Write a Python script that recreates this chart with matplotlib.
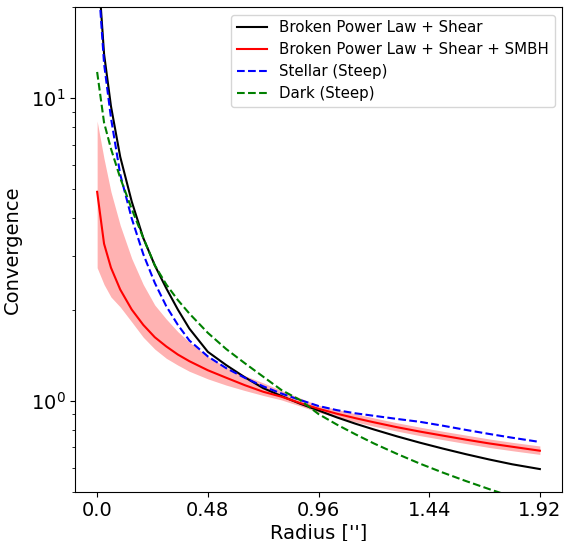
import matplotlib
matplotlib.use("Agg")
import matplotlib.pyplot as plt

radius = [0.00, 0.03, 0.06, 0.10, 0.15, 0.20, 0.25, 0.30, 0.35, 0.40, 0.48,
          0.56, 0.64, 0.72, 0.80, 0.88, 0.96, 1.04, 1.12, 1.20, 1.30, 1.40,
          1.50, 1.60, 1.70, 1.80, 1.92]

bpl_shear = [30.0, 14.0, 9.4, 6.4, 4.55, 3.45, 2.8, 2.35, 2.0, 1.73, 1.45,
             1.31, 1.195, 1.10, 1.035, 0.977, 0.928, 0.880, 0.839, 0.803, 0.762, 0.726,
             0.694, 0.665, 0.639, 0.616, 0.594]

bpl_smbh = [4.9, 3.3, 2.75, 2.33, 2.0, 1.78, 1.62, 1.51, 1.42, 1.35, 1.26,
            1.19, 1.125, 1.07, 1.03, 0.982, 0.94, 0.905, 0.875, 0.848, 0.817, 0.790,
            0.766, 0.743, 0.722, 0.704, 0.683]

bpl_smbh_lo = [2.75, 2.42, 2.2, 2.04, 1.82, 1.62, 1.48, 1.38, 1.31, 1.25, 1.18,
               1.125, 1.08, 1.04, 1.005, 0.96, 0.915, 0.88, 0.85, 0.823, 0.793, 0.766,
               0.743, 0.721, 0.700, 0.683, 0.664]

bpl_smbh_hi = [8.4, 6.3, 4.9, 3.8, 2.95, 2.42, 2.07, 1.86, 1.69, 1.56, 1.40,
               1.29, 1.21, 1.145, 1.08, 1.02, 0.965, 0.935, 0.905, 0.877, 0.845, 0.817,
               0.792, 0.769, 0.747, 0.728, 0.708]

stellar_steep = [28.0, 13.0, 8.6, 5.6, 4.0, 3.05, 2.45, 2.05, 1.78, 1.58, 1.40,
                 1.28, 1.19, 1.115, 1.055, 1.005, 0.96, 0.930, 0.908, 0.891, 0.870, 0.851,
                 0.826, 0.800, 0.776, 0.754, 0.730]

dark_steep = [12.2, 8.3, 6.8, 5.45, 4.3, 3.45, 2.8, 2.42, 2.15, 1.94, 1.675,
              1.48, 1.33, 1.20, 1.083, 1.005, 0.903, 0.833, 0.774, 0.722, 0.667, 0.619,
              0.578, 0.542, 0.510, 0.481, 0.451]

xticks = [0.0, 0.48, 0.96, 1.44, 1.92]
xtick_labels = ["0.0", "0.48", "0.96", "1.44", "1.92"]

fig = plt.figure(figsize=(5.66, 5.41), dpi=100)
ax = fig.add_axes([75 / 566, 1 - 491.7 / 541, (562 - 75) / 566, (491.7 - 7) / 541])

ax.plot(radius, bpl_shear, color="black", lw=1.5, label="Broken Power Law + Shear")
ax.plot(radius, bpl_smbh, color="red", lw=1.5, label="Broken Power Law + Shear + SMBH")
ax.fill_between(radius, bpl_smbh_lo, bpl_smbh_hi, color="red", alpha=0.3, lw=0)
ax.plot(radius, stellar_steep, color="blue", ls="--", lw=1.5, label="Stellar (Steep)")
ax.plot(radius, dark_steep, color="green", ls="--", lw=1.5, label="Dark (Steep)")

ax.set_yscale("log")
ax.set_ylim(0.5, 20)
ax.set_xlim(-0.096, 2.016)
ax.set_xticks(xticks)
ax.set_xticklabels(xtick_labels)
ax.tick_params(labelsize=14)
ax.set_xlabel("Radius ['']", fontsize=14, labelpad=2)
ax.set_ylabel("Convergence", fontsize=14, labelpad=6)
ax.legend(loc="upper right", fontsize=10.8, labelspacing=0.45)

fig.savefig("out.png", dpi=100)
